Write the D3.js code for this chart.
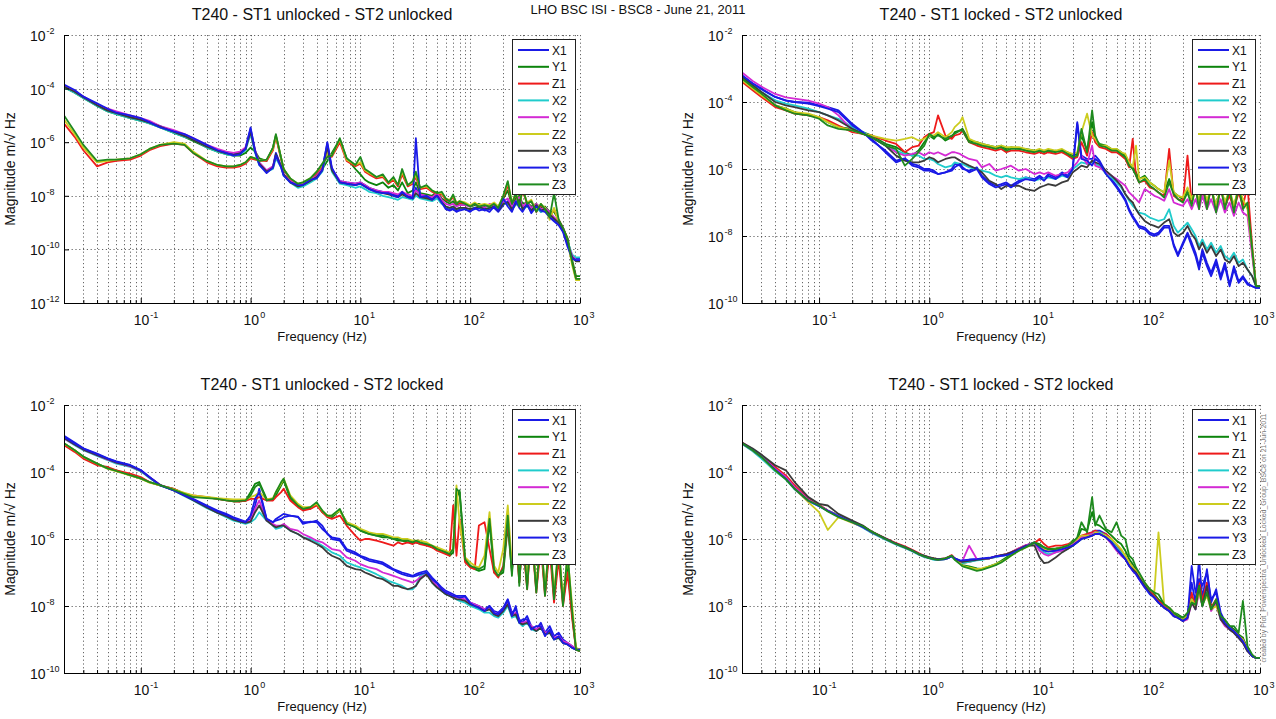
<!DOCTYPE html>
<html><head><meta charset="utf-8">
<script src="https://cdn.jsdelivr.net/npm/d3@7"></script>
<style>
body{margin:0;background:#fff}
svg{display:block}
text{font-family:"Liberation Sans",Arial,Helvetica,sans-serif;fill:#111}
</style></head>
<body><svg id="c" width="1276" height="719"></svg>
<script>
// ---------- DATA ----------
const freqs = [0.02,0.025,0.03,0.04,0.05,0.06,0.08,0.1,0.12,0.15,
0.2,0.25,0.3,0.4,0.5,0.6,0.7,0.8,0.9,1.0,
1.1,1.2,1.4,1.6,1.7,1.9,2.0,2.3,2.7,3.0,
3.5,4.0,4.5,5.0,5.5,6.5,7.5,9,10,11,
12,14,16,18,20,22,24,27,30,32,
35,40,45,50,55,60,65,70,75,80,
90,100,110,120,135,150,165,180,200,220,
240,260,280,300,330,360,400,440,480,530,
580,640,700,770,850,920,1000];

const seriesNames = ["X1","Y1","Z1","X2","Y2","Z2","X3","Y3","Z3"];
const seriesColors = ["#1a1ae6","#0c840c","#ee1a1a","#20cccc","#d42ad4","#cccc1e","#3a3a3a","#1a1ae6","#1e8a1e"];
const panelTitles = ["T240 - ST1 unlocked - ST2 unlocked","T240 - ST1 locked - ST2 unlocked","T240 - ST1 unlocked - ST2 locked","T240 - ST1 locked - ST2 locked"];
const superTitle = "LHO BSC ISI - BSC8 - June 21, 2011";
const yTickExpsTop = [-2,-4,-6,-8,-10,-12];
const yTickExps = [-2,-4,-6,-8,-10];
const xTickExps = [-1,0,1,2,3];
const xLabel = "Frequency (Hz)";
const yLabel = "Magnitude m/\u221A Hz";
const creditText = "created by Plot_Powerspectra_Unlocked_Locked_Group_BSC8 on 21-Jun-2011";

// values are log10(magnitude in m/sqrt(Hz))
// Panel 1: ST1 unlocked - ST2 unlocked
const p1X1 = [-3.9,-4.1,-4.3,-4.6,-4.8,-4.9,-5.05,-5.15,-5.25,-5.4,
-5.6,-5.75,-5.9,-6.15,-6.3,-6.4,-6.45,-6.4,-6.2,-5.5,
-6.3,-6.8,-7.1,-6.9,-6.4,-6.9,-7.2,-7.45,-7.65,-7.6,
-7.45,-7.3,-7.0,-6.05,-7.0,-7.45,-7.5,-7.55,-7.5,-7.6,
-7.7,-7.8,-7.85,-7.9,-7.95,-8.0,-7.9,-8.0,-8.05,-7.7,
-8.0,-8.05,-8.1,-7.95,-8.2,-8.45,-8.5,-8.45,-8.55,-8.5,
-8.45,-8.55,-8.5,-8.45,-8.55,-8.5,-8.45,-8.6,-8.35,-8.2,
-8.55,-8.3,-8.1,-8.5,-8.35,-8.6,-8.35,-8.6,-8.5,-8.75,
-8.9,-9.05,-9.3,-9.8,-10.3,-10.35,-10.35];
const p1Y1 = [-3.95,-4.15,-4.35,-4.65,-4.85,-4.95,-5.1,-5.2,-5.3,-5.45,
-5.65,-5.8,-5.95,-6.2,-6.35,-6.45,-6.5,-6.5,-6.4,-6.2,
-6.35,-6.6,-6.7,-6.2,-5.75,-6.6,-7.0,-7.4,-7.6,-7.55,
-7.4,-7.2,-7.0,-6.7,-6.4,-5.9,-6.6,-7.0,-7.2,-7.4,
-7.5,-7.6,-7.5,-7.7,-7.6,-7.8,-7.5,-7.9,-7.8,-7.5,
-7.9,-7.95,-8.0,-7.85,-8.1,-8.2,-8.3,-8.2,-8.35,-8.3,
-8.3,-8.4,-8.35,-8.3,-8.4,-8.35,-8.3,-8.4,-8.1,-7.8,
-8.35,-8.1,-8.0,-8.3,-8.25,-8.4,-8.3,-8.45,-8.4,-8.6,
-8.6,-8.9,-9.2,-9.6,-10.4,-11.0,-11.0];
const p1Z1 = [-5.3,-5.8,-6.3,-6.9,-6.75,-6.7,-6.65,-6.5,-6.3,-6.15,
-6.05,-6.1,-6.4,-6.75,-6.9,-6.95,-6.95,-6.9,-6.8,-6.6,
-6.65,-6.7,-6.7,-6.3,-5.8,-6.65,-7.0,-7.4,-7.6,-7.55,
-7.4,-7.15,-6.9,-6.5,-6.55,-6.0,-6.7,-6.9,-6.8,-7.1,
-7.2,-7.35,-7.3,-7.55,-7.4,-7.65,-7.2,-7.65,-7.55,-7.3,
-7.75,-7.7,-7.85,-7.95,-7.95,-8.15,-8.2,-8.05,-8.3,-8.25,
-8.3,-8.4,-8.3,-8.4,-8.35,-8.4,-8.3,-8.45,-8.05,-7.6,
-8.3,-7.95,-8.4,-7.8,-8.3,-8.2,-8.6,-8.35,-8.5,-8.8,
-8.5,-8.9,-9.2,-9.6,-10.5,-11.1,-11.1];
const p1X2 = [-3.95,-4.15,-4.35,-4.65,-4.85,-4.95,-5.1,-5.2,-5.3,-5.45,
-5.65,-5.8,-5.9,-6.2,-6.35,-6.45,-6.5,-6.45,-6.3,-5.7,
-6.4,-6.85,-7.1,-7.0,-6.6,-6.95,-7.25,-7.5,-7.7,-7.65,
-7.5,-7.35,-7.1,-6.3,-7.1,-7.55,-7.6,-7.7,-7.65,-7.75,
-7.85,-7.9,-8.0,-8.05,-8.1,-8.15,-8.05,-8.1,-8.15,-8.0,
-8.1,-8.15,-8.2,-8.1,-8.3,-8.4,-8.45,-8.4,-8.5,-8.45,
-8.5,-8.5,-8.45,-8.4,-8.5,-8.45,-8.4,-8.5,-8.3,-8.3,
-8.45,-8.35,-8.2,-8.5,-8.4,-8.5,-8.45,-8.6,-8.55,-8.7,
-8.85,-9.0,-9.25,-9.7,-10.2,-10.3,-10.3];
const p1Y2 = [-3.9,-4.1,-4.3,-4.6,-4.75,-4.85,-5.0,-5.1,-5.2,-5.4,
-5.55,-5.7,-5.85,-6.1,-6.25,-6.35,-6.4,-6.35,-6.2,-5.6,
-6.3,-6.75,-7.05,-6.9,-6.5,-6.9,-7.2,-7.45,-7.6,-7.55,
-7.4,-7.25,-7.0,-6.2,-7.0,-7.45,-7.5,-7.55,-7.5,-7.6,
-7.7,-7.8,-7.85,-7.85,-7.9,-7.95,-7.85,-7.95,-8.0,-7.8,
-7.95,-8.0,-8.05,-7.9,-8.15,-8.3,-8.35,-8.3,-8.4,-8.35,
-8.35,-8.4,-8.3,-8.35,-8.45,-8.3,-8.35,-8.45,-8.2,-8.1,
-8.4,-8.2,-8.05,-8.4,-8.25,-8.45,-8.3,-8.5,-8.45,-8.6,
-8.8,-8.95,-9.2,-9.75,-10.25,-10.4,-10.4];
const p1Z2 = [-5.15,-5.7,-6.2,-6.75,-6.7,-6.65,-6.6,-6.45,-6.25,-6.1,
-6.0,-6.05,-6.35,-6.7,-6.85,-6.9,-6.9,-6.85,-6.75,-6.55,
-6.6,-6.7,-6.65,-6.25,-5.75,-6.6,-7.0,-7.35,-7.55,-7.5,
-7.35,-7.1,-6.85,-6.4,-6.5,-5.9,-6.65,-6.85,-6.75,-7.05,
-7.15,-7.3,-7.25,-7.5,-7.35,-7.6,-7.1,-7.6,-7.5,-7.2,
-7.7,-7.65,-7.8,-7.9,-7.9,-8.1,-8.15,-8.0,-8.25,-8.2,
-8.25,-8.35,-8.25,-8.35,-8.3,-8.35,-8.25,-8.4,-8.0,-7.5,
-8.25,-7.9,-8.35,-7.75,-8.25,-8.15,-8.55,-8.3,-8.45,-8.9,
-8.45,-9.0,-9.3,-9.7,-10.6,-11.15,-11.15];
const p1X3 = [-3.92,-4.12,-4.32,-4.62,-4.82,-4.92,-5.07,-5.17,-5.27,-5.42,
-5.62,-5.77,-5.92,-6.17,-6.32,-6.42,-6.47,-6.42,-6.25,-5.6,
-6.35,-6.8,-7.1,-6.95,-6.45,-6.9,-7.2,-7.5,-7.65,-7.6,
-7.45,-7.3,-7.05,-6.15,-7.05,-7.5,-7.55,-7.6,-7.55,-7.65,
-7.75,-7.85,-7.9,-7.95,-8.0,-8.05,-7.95,-8.05,-8.1,-7.9,
-8.05,-8.1,-8.15,-8.0,-8.25,-8.4,-8.45,-8.4,-8.5,-8.45,
-8.45,-8.5,-8.45,-8.4,-8.5,-8.45,-8.4,-8.55,-8.3,-8.25,
-8.5,-8.3,-8.15,-8.5,-8.35,-8.55,-8.35,-8.55,-8.5,-8.7,
-8.85,-9.0,-9.3,-9.8,-10.3,-10.45,-10.45];
const p1Y3 = [-3.85,-4.05,-4.3,-4.55,-4.75,-4.9,-5.0,-5.1,-5.25,-5.45,
-5.6,-5.7,-5.85,-6.1,-6.3,-6.4,-6.5,-6.45,-6.25,-5.45,
-6.35,-6.85,-7.15,-6.95,-6.5,-6.95,-7.25,-7.5,-7.6,-7.6,
-7.4,-7.35,-7.05,-6.0,-6.95,-7.5,-7.55,-7.6,-7.55,-7.65,
-7.75,-7.85,-7.9,-7.9,-8.0,-8.05,-7.85,-8.05,-8.1,-5.85,
-8.05,-8.0,-8.15,-8.0,-8.25,-8.5,-8.55,-8.5,-8.6,-8.55,
-8.5,-8.6,-8.45,-8.55,-8.5,-8.6,-8.4,-8.55,-8.1,-8.4,
-8.6,-8.2,-8.45,-8.6,-8.3,-8.65,-8.4,-8.55,-8.6,-8.8,
-8.95,-9.1,-9.35,-9.9,-10.35,-10.4,-10.4];
const p1Z3 = [-5.0,-5.6,-6.1,-6.7,-6.65,-6.65,-6.6,-6.45,-6.25,-6.1,
-6.05,-6.1,-6.4,-6.7,-6.85,-6.9,-6.9,-6.85,-6.75,-6.55,
-6.6,-6.7,-6.65,-6.2,-5.7,-6.6,-7.0,-7.35,-7.55,-7.5,
-7.35,-7.1,-6.8,-6.55,-6.5,-5.85,-6.6,-6.85,-6.55,-7.0,
-7.1,-7.3,-7.2,-7.5,-7.3,-7.6,-7.0,-7.6,-7.45,-7.1,
-7.7,-7.6,-7.8,-7.9,-7.85,-8.1,-8.2,-7.95,-8.3,-8.2,
-8.3,-8.4,-8.3,-8.4,-8.35,-8.4,-8.3,-8.45,-8.0,-7.45,
-8.3,-7.9,-8.4,-7.7,-8.3,-8.2,-8.6,-8.3,-8.5,-8.8,
-7.9,-8.9,-9.2,-9.6,-10.5,-11.1,-11.1];

// Panel 2: ST1 locked - ST2 unlocked
const p2X1 = [-3.22,-3.45,-3.62,-3.85,-3.96,-4.0,-4.02,-4.1,-4.15,-4.25,
-4.65,-4.9,-5.1,-5.5,-5.8,-5.7,-5.9,-5.95,-6.05,-6.05,
-6.1,-6.15,-6.1,-6.0,-5.85,-5.9,-6.0,-6.05,-5.95,-6.2,
-6.4,-6.5,-6.45,-6.4,-6.5,-6.35,-6.25,-6.3,-6.2,-6.3,
-6.15,-6.25,-6.1,-6.2,-5.95,-4.6,-5.6,-5.7,-5.7,-5.6,
-5.75,-6.1,-6.3,-6.5,-6.7,-6.9,-7.2,-7.4,-7.55,-7.7,
-7.75,-7.9,-7.95,-7.9,-7.7,-7.7,-8.25,-8.55,-8.2,-7.9,
-8.2,-8.5,-8.9,-8.4,-8.8,-9.1,-8.7,-9.2,-8.8,-9.45,
-8.9,-9.35,-9.2,-9.4,-9.5,-9.55,-9.55];
const p2Y1 = [-3.3,-3.6,-3.8,-4.1,-4.2,-4.3,-4.4,-4.45,-4.6,-4.75,
-4.8,-4.9,-5.0,-5.25,-5.35,-5.5,-5.6,-5.45,-5.2,-5.0,
-5.1,-4.95,-5.15,-5.05,-4.9,-4.85,-4.8,-5.15,-5.2,-5.25,
-5.3,-5.35,-5.3,-5.4,-5.35,-5.4,-5.4,-5.45,-5.5,-5.45,
-5.5,-5.45,-5.5,-5.5,-5.6,-5.55,-5.0,-5.45,-4.6,-5.1,
-5.25,-5.3,-5.4,-5.4,-5.5,-5.6,-5.8,-5.95,-6.1,-6.3,
-6.2,-6.4,-6.5,-6.6,-6.7,-6.3,-6.7,-6.8,-6.9,-6.6,
-6.9,-6.6,-7.0,-6.5,-7.0,-6.6,-7.1,-6.6,-7.0,-6.7,
-7.1,-6.6,-7.0,-7.1,-8.5,-9.5,-9.5];
const p2Z1 = [-3.4,-3.65,-3.85,-4.15,-4.25,-4.35,-4.4,-4.45,-4.55,-4.7,
-4.9,-4.95,-5.0,-5.15,-5.25,-5.5,-5.35,-5.3,-5.05,-4.95,
-4.9,-4.4,-5.0,-5.1,-5.0,-4.95,-4.85,-5.2,-5.3,-5.35,
-5.4,-5.45,-5.4,-5.5,-5.45,-5.45,-5.5,-5.55,-5.5,-5.55,
-5.5,-5.55,-5.5,-5.6,-5.7,-5.65,-5.2,-5.6,-4.9,-5.2,
-5.35,-5.4,-5.5,-5.5,-5.6,-5.7,-5.95,-5.1,-6.2,-6.4,
-6.35,-6.55,-6.6,-6.7,-6.8,-5.4,-6.8,-6.9,-6.95,-5.6,
-7.0,-6.6,-7.1,-6.6,-7.1,-6.6,-7.2,-6.6,-7.1,-6.8,
-7.2,-6.7,-7.1,-6.5,-8.3,-9.5,-9.5];
const p2X2 = [-3.25,-3.5,-3.7,-3.95,-4.05,-4.1,-4.2,-4.3,-4.4,-4.5,
-4.75,-4.9,-5.05,-5.3,-5.45,-5.55,-5.6,-5.6,-5.7,-5.7,
-5.75,-5.85,-5.95,-5.9,-5.8,-5.85,-5.85,-5.95,-6.0,-6.05,
-6.1,-6.2,-6.25,-6.2,-6.25,-6.3,-6.25,-6.35,-6.3,-6.3,
-6.25,-6.3,-6.2,-6.25,-6.0,-5.9,-5.8,-5.85,-5.8,-5.85,
-5.9,-6.15,-6.25,-6.4,-6.55,-6.75,-6.95,-7.1,-7.2,-7.3,
-7.35,-7.45,-7.5,-7.55,-7.5,-7.2,-7.7,-7.9,-7.75,-7.6,
-7.8,-8.0,-8.3,-8.1,-8.4,-8.2,-8.5,-8.3,-8.6,-8.7,
-8.5,-8.8,-8.7,-9.0,-9.2,-9.5,-9.5];
const p2Y2 = [-3.12,-3.37,-3.54,-3.76,-3.86,-3.9,-3.96,-4.05,-4.15,-4.4,
-4.85,-4.95,-5.05,-5.3,-5.5,-5.6,-5.55,-5.5,-5.6,-5.5,
-5.55,-5.5,-5.6,-5.5,-5.5,-5.55,-5.6,-5.7,-5.75,-5.95,
-5.85,-6.05,-6.0,-5.95,-5.9,-6.05,-6.0,-6.15,-6.1,-6.15,
-6.1,-6.2,-6.15,-6.1,-5.95,-5.8,-5.6,-5.85,-5.3,-5.9,
-5.95,-6.1,-6.2,-6.3,-6.4,-6.5,-6.7,-6.8,-6.9,-7.0,
-6.6,-6.7,-6.8,-6.85,-6.95,-6.6,-7.0,-7.05,-7.1,-6.9,
-7.2,-6.9,-7.2,-6.8,-7.2,-6.9,-7.3,-6.9,-7.3,-7.0,
-7.4,-7.0,-7.3,-7.4,-8.6,-9.5,-9.5];
const p2Z2 = [-3.35,-3.6,-3.8,-4.1,-4.2,-4.3,-4.35,-4.45,-4.6,-4.75,
-4.85,-4.95,-5.0,-5.1,-5.15,-5.1,-5.05,-5.15,-5.1,-5.0,
-5.0,-4.9,-5.05,-4.9,-4.75,-4.6,-4.45,-5.1,-5.2,-5.25,
-5.3,-5.35,-5.3,-5.35,-5.35,-5.35,-5.4,-5.45,-5.4,-5.45,
-5.4,-5.45,-5.4,-5.5,-5.55,-5.5,-4.9,-4.35,-5.0,-5.1,
-5.3,-5.3,-5.4,-5.4,-5.5,-5.55,-5.8,-5.95,-5.3,-6.3,
-6.25,-6.4,-6.5,-6.6,-6.7,-5.75,-6.7,-6.8,-6.85,-6.55,
-6.9,-6.5,-7.0,-6.45,-6.95,-6.55,-7.1,-6.5,-7.0,-6.6,
-7.1,-6.5,-6.9,-7.2,-8.4,-9.5,-9.5];
const p2X3 = [-3.25,-3.5,-3.7,-4.0,-4.1,-4.15,-4.25,-4.3,-4.4,-4.55,
-4.8,-4.95,-5.05,-5.3,-5.6,-5.75,-5.8,-5.8,-5.75,-5.65,
-5.7,-5.8,-5.7,-5.65,-5.65,-5.75,-5.8,-5.9,-6.0,-6.1,
-6.35,-6.45,-6.6,-6.5,-6.5,-6.5,-6.6,-6.65,-6.55,-6.5,
-6.45,-6.5,-6.4,-6.35,-6.1,-6.0,-5.9,-5.95,-5.75,-5.8,
-5.85,-6.05,-6.2,-6.35,-6.5,-6.75,-6.9,-7.0,-7.2,-7.35,
-7.55,-7.65,-7.7,-7.75,-7.6,-7.5,-7.9,-8.0,-7.9,-7.7,
-7.95,-8.1,-8.4,-8.2,-8.5,-8.3,-8.6,-8.4,-8.7,-8.8,
-8.6,-8.9,-8.8,-9.0,-9.2,-9.5,-9.5];
const p2Y3 = [-3.2,-3.45,-3.6,-3.85,-3.95,-4.0,-4.05,-4.12,-4.2,-4.3,
-4.7,-4.9,-5.15,-5.45,-5.75,-5.68,-5.85,-5.9,-6.0,-6.0,
-6.05,-6.15,-6.1,-6.05,-5.95,-5.85,-5.95,-6.1,-6.0,-6.25,
-6.45,-6.55,-6.5,-6.45,-6.55,-6.4,-6.3,-6.35,-6.25,-6.35,
-6.2,-6.3,-6.15,-6.25,-6.0,-4.65,-5.7,-5.75,-5.9,-5.7,
-5.8,-6.15,-6.35,-6.55,-6.75,-6.95,-7.25,-7.45,-7.6,-7.75,
-7.8,-7.95,-8.0,-7.95,-7.75,-7.75,-8.3,-8.6,-8.25,-7.95,
-8.3,-8.6,-9.0,-8.5,-8.9,-9.2,-8.8,-9.3,-8.9,-9.5,
-9.0,-9.4,-9.25,-9.45,-9.5,-9.55,-9.55];
const p2Z3 = [-3.3,-3.55,-3.75,-4.1,-4.25,-4.35,-4.4,-4.5,-4.7,-4.8,
-4.85,-4.95,-5.05,-5.3,-5.4,-5.9,-5.7,-5.5,-5.3,-4.95,
-5.05,-5.0,-5.1,-5.0,-4.95,-4.85,-4.85,-5.2,-5.25,-5.3,
-5.35,-5.4,-5.35,-5.45,-5.4,-5.4,-5.45,-5.5,-5.45,-5.5,
-5.45,-5.5,-5.45,-5.55,-5.65,-5.6,-4.8,-5.5,-4.25,-5.0,
-5.3,-5.35,-5.45,-5.45,-5.55,-5.65,-5.9,-6.0,-6.2,-6.4,
-6.3,-6.5,-6.6,-6.7,-6.85,-6.4,-6.75,-6.9,-7.0,-6.7,
-7.1,-6.5,-7.2,-6.4,-7.2,-6.5,-7.3,-6.5,-7.2,-6.6,
-7.3,-6.5,-7.2,-7.0,-8.4,-9.5,-9.5];

// Panel 3: ST1 unlocked - ST2 locked
const p3X1 = [-2.92,-3.12,-3.29,-3.45,-3.59,-3.68,-3.79,-3.94,-4.15,-4.39,
-4.53,-4.68,-4.8,-5.0,-5.15,-5.25,-5.35,-5.42,-5.48,-5.4,
-5.0,-4.5,-5.4,-5.5,-5.45,-5.4,-5.35,-5.3,-5.35,-5.5,
-5.5,-5.45,-5.6,-5.85,-5.95,-6.0,-6.3,-6.4,-6.5,-6.55,
-6.6,-6.65,-6.7,-6.8,-6.9,-6.95,-7.0,-7.05,-7.1,-7.05,
-7.0,-6.95,-7.15,-7.3,-7.45,-7.55,-7.6,-7.65,-7.7,-7.7,
-7.7,-7.9,-7.95,-8.0,-8.1,-8.0,-8.15,-8.2,-8.05,-7.8,
-8.2,-8.1,-8.4,-8.5,-8.3,-8.6,-8.7,-8.5,-8.8,-8.6,
-8.9,-8.8,-9.0,-9.1,-9.2,-9.3,-9.3];
const p3Y1 = [-3.15,-3.35,-3.55,-3.75,-3.9,-3.95,-4.1,-4.2,-4.3,-4.4,
-4.5,-4.65,-4.72,-4.76,-4.8,-4.84,-4.86,-4.88,-4.86,-4.6,
-4.35,-4.3,-4.8,-4.82,-4.7,-4.4,-4.25,-4.8,-5.0,-5.1,
-5.1,-4.95,-5.2,-5.3,-5.35,-5.15,-5.5,-5.65,-5.75,-5.8,
-5.85,-5.9,-5.95,-5.95,-6.0,-6.05,-6.05,-6.1,-6.1,-6.1,
-6.15,-6.15,-6.25,-6.3,-6.35,-6.4,-6.5,-6.4,-4.8,-4.55,
-6.65,-6.8,-6.9,-6.95,-6.9,-5.5,-7.0,-7.1,-7.0,-5.6,
-7.0,-5.4,-7.3,-5.9,-7.4,-5.7,-7.5,-6.0,-7.6,-6.1,
-7.7,-6.4,-7.9,-6.8,-8.3,-9.3,-9.35];
const p3Z1 = [-3.2,-3.4,-3.6,-3.8,-3.85,-3.95,-4.05,-4.15,-4.3,-4.4,
-4.5,-4.65,-4.7,-4.75,-4.8,-4.85,-4.88,-4.88,-4.86,-4.8,
-4.8,-4.75,-4.85,-4.85,-4.75,-4.6,-4.5,-4.85,-5.05,-5.15,
-5.1,-5.0,-5.2,-5.35,-5.4,-5.3,-5.6,-5.9,-6.05,-6.0,
-6.0,-6.05,-6.1,-6.15,-6.2,-6.1,-6.15,-6.1,-6.15,-6.1,
-6.15,-6.2,-6.25,-6.35,-6.4,-6.45,-6.5,-5.0,-6.5,-5.4,
-6.7,-6.85,-6.9,-5.6,-5.5,-6.3,-7.0,-7.15,-6.8,-5.5,
-6.9,-6.0,-7.3,-6.0,-7.5,-5.8,-7.6,-6.2,-7.7,-6.3,
-7.9,-6.6,-8.0,-7.0,-8.4,-9.3,-9.35];
const p3X2 = [-3.0,-3.2,-3.35,-3.52,-3.65,-3.75,-3.85,-3.98,-4.18,-4.4,
-4.55,-4.72,-4.85,-5.08,-5.22,-5.35,-5.45,-5.5,-5.55,-5.5,
-5.4,-5.2,-5.45,-5.6,-5.7,-5.65,-5.6,-5.75,-5.85,-5.95,
-6.0,-6.1,-6.2,-6.3,-6.4,-6.5,-6.7,-6.8,-6.85,-6.9,
-6.95,-7.05,-7.15,-7.25,-7.3,-7.35,-7.4,-7.5,-7.5,-7.4,
-7.1,-7.0,-7.3,-7.45,-7.55,-7.65,-7.7,-7.75,-7.8,-7.85,
-7.9,-8.0,-8.05,-8.1,-8.2,-8.2,-8.3,-8.35,-8.2,-8.0,
-8.35,-8.3,-8.5,-8.6,-8.5,-8.7,-8.75,-8.65,-8.85,-8.8,
-9.0,-8.95,-9.1,-9.15,-9.25,-9.3,-9.3];
const p3Y2 = [-3.0,-3.18,-3.33,-3.5,-3.63,-3.72,-3.83,-3.96,-4.16,-4.38,
-4.54,-4.7,-4.83,-5.05,-5.2,-5.3,-5.4,-5.46,-5.5,-5.45,
-5.1,-4.85,-5.45,-5.55,-5.6,-5.6,-5.55,-5.7,-5.75,-5.85,
-5.95,-6.05,-6.1,-6.2,-6.3,-6.35,-6.55,-6.65,-6.75,-6.8,
-6.85,-6.9,-7.0,-7.05,-7.1,-7.15,-7.2,-7.25,-7.3,-7.25,
-7.15,-7.05,-7.25,-7.4,-7.5,-7.6,-7.65,-7.7,-7.75,-7.75,
-7.8,-7.9,-7.95,-8.0,-8.1,-8.05,-8.2,-8.25,-8.1,-7.9,
-8.25,-8.2,-8.45,-8.5,-8.45,-8.6,-8.7,-8.6,-8.8,-8.75,
-8.95,-8.9,-9.05,-9.1,-9.2,-9.3,-9.3];
const p3Z2 = [-3.15,-3.35,-3.55,-3.75,-3.9,-3.98,-4.1,-4.2,-4.32,-4.4,
-4.52,-4.62,-4.7,-4.74,-4.78,-4.8,-4.82,-4.82,-4.82,-4.75,
-4.7,-4.6,-4.82,-4.78,-4.6,-4.35,-4.2,-4.7,-4.95,-5.05,
-5.05,-4.95,-5.15,-5.3,-5.3,-5.15,-5.5,-5.6,-5.7,-5.75,
-5.8,-5.85,-5.85,-5.9,-5.95,-5.95,-6.0,-6.0,-6.05,-6.05,
-6.05,-6.1,-6.2,-6.25,-6.3,-6.35,-6.4,-6.3,-4.4,-5.5,
-6.55,-6.7,-6.8,-6.85,-6.5,-5.2,-6.8,-7.0,-6.3,-5.0,
-6.8,-5.3,-7.2,-5.5,-7.3,-5.6,-7.4,-5.9,-7.5,-5.9,
-7.6,-6.2,-7.8,-6.5,-8.0,-9.25,-9.3];
const p3X3 = [-2.98,-3.18,-3.33,-3.5,-3.62,-3.72,-3.82,-3.96,-4.16,-4.39,
-4.55,-4.7,-4.84,-5.06,-5.22,-5.32,-5.42,-5.48,-5.52,-5.48,
-5.2,-5.0,-5.45,-5.6,-5.65,-5.6,-5.6,-5.75,-5.85,-5.95,
-6.05,-6.15,-6.25,-6.4,-6.5,-6.6,-6.8,-6.9,-6.92,-7.0,
-7.05,-7.15,-7.2,-7.3,-7.4,-7.4,-7.45,-7.5,-7.45,-7.4,
-7.2,-7.05,-7.3,-7.45,-7.55,-7.65,-7.7,-7.75,-7.8,-7.8,
-7.85,-7.95,-8.0,-8.05,-8.15,-8.1,-8.25,-8.3,-8.15,-7.95,
-8.3,-8.25,-8.5,-8.55,-8.5,-8.65,-8.75,-8.65,-8.85,-8.8,
-9.0,-8.95,-9.1,-9.15,-9.25,-9.3,-9.3];
const p3Y3 = [-2.95,-3.15,-3.3,-3.47,-3.6,-3.7,-3.8,-3.95,-4.15,-4.4,
-4.55,-4.7,-4.82,-5.02,-5.18,-5.28,-5.38,-5.45,-5.5,-5.3,
-4.8,-4.6,-5.4,-5.5,-5.4,-5.3,-5.25,-5.3,-5.33,-5.55,
-5.48,-5.5,-5.7,-5.83,-6.0,-6.05,-6.35,-6.45,-6.52,-6.6,
-6.65,-6.7,-6.75,-6.85,-6.92,-7.0,-7.05,-7.1,-7.12,-7.1,
-7.05,-7.0,-7.2,-7.32,-7.5,-7.6,-7.65,-7.7,-7.72,-7.75,
-7.72,-7.92,-8.0,-8.05,-8.15,-8.0,-8.21,-8.25,-8.1,-7.82,
-8.3,-8.0,-8.5,-8.4,-8.4,-8.7,-8.6,-8.6,-8.9,-8.7,
-9.0,-8.9,-9.1,-9.15,-9.25,-9.3,-9.3];
const p3Z3 = [-3.14,-3.35,-3.54,-3.75,-3.89,-3.97,-4.09,-4.19,-4.3,-4.39,
-4.53,-4.65,-4.75,-4.78,-4.8,-4.85,-4.88,-4.86,-4.85,-4.7,
-4.45,-4.35,-4.85,-4.8,-4.6,-4.3,-4.2,-4.75,-5.0,-5.1,
-5.05,-4.9,-5.15,-5.3,-5.3,-5.1,-5.55,-5.65,-5.75,-5.8,
-5.85,-5.9,-5.9,-5.95,-6.0,-6.0,-6.05,-6.05,-6.1,-6.05,
-6.1,-6.15,-6.2,-6.3,-6.35,-6.4,-6.45,-6.3,-4.5,-4.6,
-6.6,-6.8,-6.85,-6.9,-6.8,-5.4,-6.9,-7.1,-6.9,-5.3,
-7.1,-5.2,-7.4,-5.6,-7.5,-5.5,-7.6,-5.7,-7.7,-5.8,
-7.8,-6.1,-8.0,-6.4,-8.2,-9.3,-9.35];

// Panel 4: ST1 locked - ST2 locked
const p4X1 = [-3.14,-3.34,-3.53,-3.92,-4.18,-4.48,-4.85,-5.0,-5.15,-5.3,
-5.5,-5.64,-5.8,-6.0,-6.15,-6.25,-6.35,-6.45,-6.52,-6.56,
-6.6,-6.62,-6.6,-6.52,-6.58,-6.65,-6.65,-6.62,-6.6,-6.6,
-6.58,-6.53,-6.5,-6.47,-6.42,-6.3,-6.2,-6.1,-6.2,-6.3,
-6.35,-6.35,-6.3,-6.25,-6.15,-6.05,-5.95,-5.85,-5.8,-5.75,
-5.75,-5.85,-6.05,-6.25,-6.4,-6.55,-6.75,-6.9,-7.0,-7.15,
-7.4,-7.6,-7.7,-7.85,-8.0,-8.1,-8.25,-8.3,-8.4,-8.3,
-7.3,-7.9,-6.6,-7.8,-6.9,-7.9,-7.5,-8.2,-8.45,-8.6,
-8.7,-8.9,-9.0,-9.3,-9.5,-9.55,-9.55];
const p4Y1 = [-3.15,-3.36,-3.56,-3.92,-4.2,-4.48,-4.83,-5.0,-5.15,-5.3,
-5.5,-5.64,-5.8,-6.0,-6.15,-6.25,-6.35,-6.45,-6.5,-6.55,
-6.58,-6.6,-6.6,-6.5,-6.6,-6.7,-6.78,-6.82,-6.88,-6.9,
-6.82,-6.75,-6.65,-6.55,-6.45,-6.3,-6.2,-6.1,-6.15,-6.25,
-6.3,-6.28,-6.25,-6.2,-6.05,-6.0,-5.7,-5.75,-5.2,-5.55,
-5.6,-5.75,-5.9,-6.05,-6.15,-6.35,-6.6,-6.75,-6.9,-7.05,
-7.35,-7.5,-7.65,-7.8,-7.95,-8.05,-8.2,-8.25,-8.35,-8.25,
-7.7,-8.0,-7.3,-7.9,-7.4,-8.0,-7.9,-8.3,-8.45,-8.6,
-8.7,-8.85,-8.95,-9.25,-9.5,-9.55,-9.55];
const p4Z1 = [-3.12,-3.33,-3.5,-3.85,-4.1,-4.4,-4.8,-4.98,-5.15,-5.3,
-5.48,-5.62,-5.78,-5.98,-6.12,-6.22,-6.32,-6.42,-6.5,-6.55,
-6.58,-6.6,-6.58,-6.48,-6.58,-6.68,-6.72,-6.68,-6.62,-6.6,
-6.58,-6.52,-6.48,-6.45,-6.4,-6.28,-6.2,-6.12,-6.0,-6.15,
-6.25,-6.2,-6.2,-6.15,-6.1,-6.0,-5.9,-5.85,-5.8,-5.75,
-5.8,-5.85,-6.0,-6.2,-6.35,-6.5,-6.7,-6.85,-6.95,-7.1,
-7.35,-7.55,-7.7,-7.85,-8.0,-8.1,-8.25,-8.3,-8.45,-8.3,
-7.6,-8.05,-7.2,-7.85,-7.3,-8.05,-7.8,-8.35,-8.5,-8.65,
-8.75,-8.9,-9.0,-9.3,-9.5,-9.55,-9.55];
const p4X2 = [-3.16,-3.38,-3.6,-3.98,-4.22,-4.52,-4.87,-5.02,-5.16,-5.3,
-5.5,-5.66,-5.82,-6.02,-6.17,-6.27,-6.37,-6.47,-6.54,-6.58,
-6.62,-6.63,-6.6,-6.52,-6.6,-6.68,-6.72,-6.68,-6.64,-6.62,
-6.58,-6.54,-6.5,-6.48,-6.44,-6.3,-6.22,-6.12,-6.3,-6.4,
-6.45,-6.4,-6.35,-6.3,-6.2,-6.1,-6.0,-5.9,-5.85,-5.8,
-5.8,-5.9,-6.05,-6.25,-6.4,-6.55,-6.75,-6.9,-7.0,-7.15,
-7.4,-7.6,-7.75,-7.9,-8.05,-8.15,-8.3,-8.35,-8.45,-8.35,
-7.8,-8.1,-7.5,-8.0,-7.5,-8.1,-7.9,-8.4,-8.55,-8.7,
-8.8,-8.95,-9.1,-9.35,-9.5,-9.55,-9.55];
const p4Y2 = [-3.14,-3.34,-3.52,-3.9,-4.15,-4.45,-4.82,-5.0,-5.15,-5.32,
-5.5,-5.64,-5.8,-6.0,-6.15,-6.25,-6.35,-6.45,-6.52,-6.56,
-6.6,-6.6,-6.6,-6.5,-6.6,-6.7,-6.65,-6.2,-6.6,-6.6,
-6.58,-6.52,-6.5,-6.45,-6.4,-6.28,-6.18,-6.12,-6.35,-6.45,
-6.5,-6.4,-6.35,-6.25,-6.15,-6.05,-5.95,-5.9,-5.85,-5.8,
-5.85,-5.95,-6.15,-6.35,-6.5,-6.6,-6.8,-6.95,-7.05,-7.2,
-7.45,-7.6,-7.75,-7.9,-8.05,-8.15,-8.3,-8.35,-8.45,-8.4,
-7.9,-8.1,-7.6,-8.0,-7.6,-8.15,-7.95,-8.4,-8.6,-8.7,
-8.8,-8.95,-9.1,-9.35,-9.5,-9.55,-9.55];
const p4Z2 = [-3.15,-3.36,-3.55,-3.95,-4.2,-4.5,-4.9,-5.2,-5.73,-5.35,
-5.52,-5.64,-5.8,-6.0,-6.15,-6.25,-6.35,-6.45,-6.52,-6.57,
-6.6,-6.62,-6.6,-6.5,-6.6,-6.72,-6.8,-6.85,-6.9,-6.88,
-6.82,-6.75,-6.68,-6.6,-6.5,-6.35,-6.25,-6.15,-6.2,-6.3,
-6.35,-6.3,-6.25,-6.2,-6.1,-6.0,-5.9,-5.9,-5.9,-5.8,
-5.85,-5.9,-6.0,-6.15,-6.3,-6.5,-6.7,-6.85,-6.95,-7.05,
-7.3,-7.5,-7.6,-5.8,-7.95,-8.05,-8.2,-8.3,-8.4,-8.3,
-7.8,-8.0,-7.6,-7.95,-7.7,-8.1,-8.0,-8.35,-8.5,-8.65,
-8.75,-8.9,-9.0,-9.3,-9.5,-9.55,-9.55];
const p4X3 = [-3.12,-3.3,-3.48,-3.8,-3.95,-4.3,-4.75,-4.95,-5.0,-5.25,
-5.45,-5.6,-5.78,-5.98,-6.14,-6.24,-6.34,-6.44,-6.5,-6.55,
-6.58,-6.6,-6.58,-6.5,-6.58,-6.66,-6.68,-6.65,-6.62,-6.6,
-6.58,-6.52,-6.48,-6.45,-6.4,-6.3,-6.2,-6.2,-6.55,-6.72,
-6.7,-6.55,-6.4,-6.3,-6.2,-6.1,-6.0,-5.95,-5.9,-5.85,
-5.85,-5.95,-6.1,-6.3,-6.45,-6.6,-6.8,-6.9,-7.0,-7.15,
-7.4,-7.6,-7.75,-7.9,-8.05,-8.15,-8.3,-8.35,-8.45,-8.35,
-7.9,-8.1,-7.4,-8.0,-7.4,-8.1,-7.85,-8.4,-8.55,-8.7,
-8.8,-8.95,-9.1,-9.35,-9.5,-9.55,-9.55];
const p4Y3 = [-3.15,-3.35,-3.55,-3.93,-4.2,-4.5,-4.86,-5.02,-5.16,-5.32,
-5.5,-5.65,-5.8,-6.0,-6.15,-6.25,-6.35,-6.45,-6.52,-6.57,
-6.6,-6.62,-6.6,-6.52,-6.58,-6.64,-6.64,-6.62,-6.6,-6.58,
-6.56,-6.52,-6.5,-6.48,-6.44,-6.32,-6.22,-6.12,-6.25,-6.35,
-6.38,-6.35,-6.3,-6.25,-6.2,-6.1,-6.0,-5.95,-5.9,-5.85,
-5.85,-5.95,-6.1,-6.3,-6.45,-6.6,-6.8,-6.95,-7.05,-7.2,
-7.45,-7.65,-7.75,-7.9,-8.05,-8.15,-8.3,-8.35,-8.45,-8.35,
-6.8,-7.6,-7.2,-7.4,-7.0,-7.8,-7.6,-8.3,-8.5,-8.65,
-8.75,-8.9,-9.05,-9.3,-9.5,-9.55,-9.55];
const p4Z3 = [-3.14,-3.35,-3.55,-3.95,-4.22,-4.5,-4.85,-5.0,-5.18,-5.35,
-5.5,-5.62,-5.78,-6.0,-6.15,-6.25,-6.35,-6.45,-6.52,-6.57,
-6.6,-6.62,-6.58,-6.5,-6.62,-6.75,-6.82,-6.88,-6.95,-6.92,
-6.85,-6.78,-6.7,-6.6,-6.5,-6.35,-6.25,-6.1,-6.2,-6.25,
-6.3,-6.3,-6.25,-6.2,-6.1,-5.95,-5.5,-5.8,-4.75,-5.6,
-5.3,-5.7,-5.8,-5.5,-5.9,-6.0,-6.5,-6.6,-6.85,-7.0,
-7.3,-7.5,-7.6,-7.65,-7.95,-8.05,-8.2,-8.3,-8.35,-8.2,
-7.9,-7.95,-7.4,-8.0,-7.6,-8.1,-7.8,-8.3,-8.4,-8.6,
-8.6,-8.8,-7.85,-9.2,-9.45,-9.55,-9.55];

// ---------- LAYOUT ----------
const panels = [
  {title: panelTitles[0], left: 64, right: 580, top: 35, bottom: 303, yMinExp: -12, yTicks: yTickExpsTop, data: [p1X1,p1Y1,p1Z1,p1X2,p1Y2,p1Z2,p1X3,p1Y3,p1Z3]},
  {title: panelTitles[1], left: 742, right: 1260, top: 35, bottom: 303, yMinExp: -10, yTicks: yTickExps, data: [p2X1,p2Y1,p2Z1,p2X2,p2Y2,p2Z2,p2X3,p2Y3,p2Z3]},
  {title: panelTitles[2], left: 64, right: 580, top: 405, bottom: 673, yMinExp: -10, yTicks: yTickExps, data: [p3X1,p3Y1,p3Z1,p3X2,p3Y2,p3Z2,p3X3,p3Y3,p3Z3]},
  {title: panelTitles[3], left: 742, right: 1260, top: 405, bottom: 673, yMinExp: -10, yTicks: yTickExps, data: [p4X1,p4Y1,p4Z1,p4X2,p4Y2,p4Z2,p4X3,p4Y3,p4Z3]}
];

const svg = d3.select("#c");
svg.append("rect").attr("width",1276).attr("height",719).attr("fill","#fff");

// super title (at the top edge, between the two upper panel titles)
svg.append("text").attr("x", 638).attr("y", 14).attr("text-anchor","middle")
  .attr("font-size", 13).text(superTitle);

panels.forEach((P, pi) => {
  const g = svg.append("g");
  const x = d3.scaleLog().domain([freqs[0], freqs[freqs.length-1]]).range([P.left, P.right]);
  const y = d3.scaleLog().domain([Math.pow(10, P.yMinExp), 1e-2]).range([P.bottom, P.top]);

  // grid: x at every tick (major + minor), y at labelled ticks
  const xt = x.ticks();
  g.append("g").selectAll("line").data(xt).join("line")
    .attr("x1", d => Math.round(x(d)) + 0.5).attr("x2", d => Math.round(x(d)) + 0.5)
    .attr("y1", P.top).attr("y2", P.bottom)
    .attr("stroke", "#333").attr("stroke-width", 1).attr("stroke-dasharray", "1.2,2.6").attr("opacity", 0.75);
  g.append("g").selectAll("line").data(P.yTicks).join("line")
    .attr("x1", P.left).attr("x2", P.right)
    .attr("y1", d => Math.round(y(Math.pow(10, d))) + 0.5).attr("y2", d => Math.round(y(Math.pow(10, d))) + 0.5)
    .attr("stroke", "#333").attr("stroke-width", 1).attr("stroke-dasharray", "1.2,2.6").attr("opacity", 0.75);

  // clip
  const cid = "clip" + pi;
  svg.append("clipPath").attr("id", cid).append("rect")
    .attr("x", P.left).attr("y", P.top - 1).attr("width", P.right - P.left + 1).attr("height", P.bottom - P.top + 1);

  const line = d3.line().x((d, i) => x(freqs[i])).y(d => y(Math.pow(10, d)));
  const lg = g.append("g").attr("clip-path", `url(#${cid})`);
  P.data.forEach((arr, si) => {
    lg.append("path").attr("d", line(arr)).attr("fill", "none")
      .attr("stroke", seriesColors[si]).attr("stroke-width", 1.8)
      .attr("stroke-linejoin", "round");
  });

  // axes (left & bottom solid)
  const xAxis = d3.axisBottom(x).tickValues(xt).tickSizeInner(-3).tickSizeOuter(0).tickFormat("");
  const ax = g.append("g").attr("transform", `translate(0,${P.bottom})`).call(xAxis);
  ax.select(".domain").attr("stroke", "#000");
  ax.selectAll(".tick line").attr("stroke", "#000")
    .attr("y2", d => (Math.abs(Math.log10(d) - Math.round(Math.log10(d))) < 1e-9) ? -5 : -3);
  const yAxis = d3.axisLeft(y).tickValues(P.yTicks.map(e => Math.pow(10, e))).tickSizeInner(-5).tickSizeOuter(0).tickFormat("");
  const ay = g.append("g").attr("transform", `translate(${P.left},0)`).call(yAxis);
  ay.select(".domain").attr("stroke", "#000");
  ay.selectAll(".tick line").attr("stroke", "#000");

  // x tick labels 10^n
  xTickExps.forEach(e => {
    const t = g.append("text").attr("x", x(Math.pow(10, e)) - 7).attr("y", P.bottom + 22).attr("font-size", 14);
    t.append("tspan").text("10");
    t.append("tspan").attr("dy", -7).attr("dx", 1).attr("font-size", 9).text(e);
  });
  // y tick labels
  P.yTicks.forEach(e => {
    const yy = y(Math.pow(10, e));
    const t = g.append("text").attr("x", P.left - 34).attr("y", yy + 6).attr("font-size", 14);
    t.append("tspan").text("10");
    t.append("tspan").attr("dy", -7).attr("dx", 1).attr("font-size", 9).text(e);
  });

  // title & axis labels
  const cx = (P.left + P.right) / 2;
  g.append("text").attr("x", cx).attr("y", P.top - 15).attr("text-anchor", "middle")
    .attr("font-size", 16).text(P.title);
  g.append("text").attr("x", cx).attr("y", P.bottom + 38).attr("text-anchor", "middle")
    .attr("font-size", 13).text(xLabel);
  const ylx = P.left - 49, yly = (P.top + P.bottom) / 2;
  g.append("text").attr("transform", `translate(${ylx},${yly}) rotate(-90)`).attr("text-anchor", "middle")
    .attr("font-size", 14).text(yLabel);

  // legend
  const lx0 = P.right - 68, ly0 = P.top + 4, lw = 63, lh = 155;
  const leg = g.append("g");
  leg.append("rect").attr("x", lx0 + 0.5).attr("y", ly0 + 0.5).attr("width", lw).attr("height", lh)
    .attr("fill", "#fff").attr("stroke", "#222").attr("stroke-width", 1);
  seriesNames.forEach((n, i) => {
    const yy = ly0 + 11 + i * 16.8;
    leg.append("line").attr("x1", lx0 + 6).attr("x2", lx0 + 37).attr("y1", yy).attr("y2", yy)
      .attr("stroke", seriesColors[i]).attr("stroke-width", 2);
    leg.append("text").attr("x", lx0 + 40).attr("y", yy + 4.5).attr("font-size", 12).text(n);
  });
});

// credit text, rotated along right edge of last panel
svg.append("text").attr("transform", "translate(1266,538) rotate(-90)").attr("text-anchor", "middle")
  .attr("font-size", 7).style("fill", "#777").text(creditText);
</script>
</body></html>
